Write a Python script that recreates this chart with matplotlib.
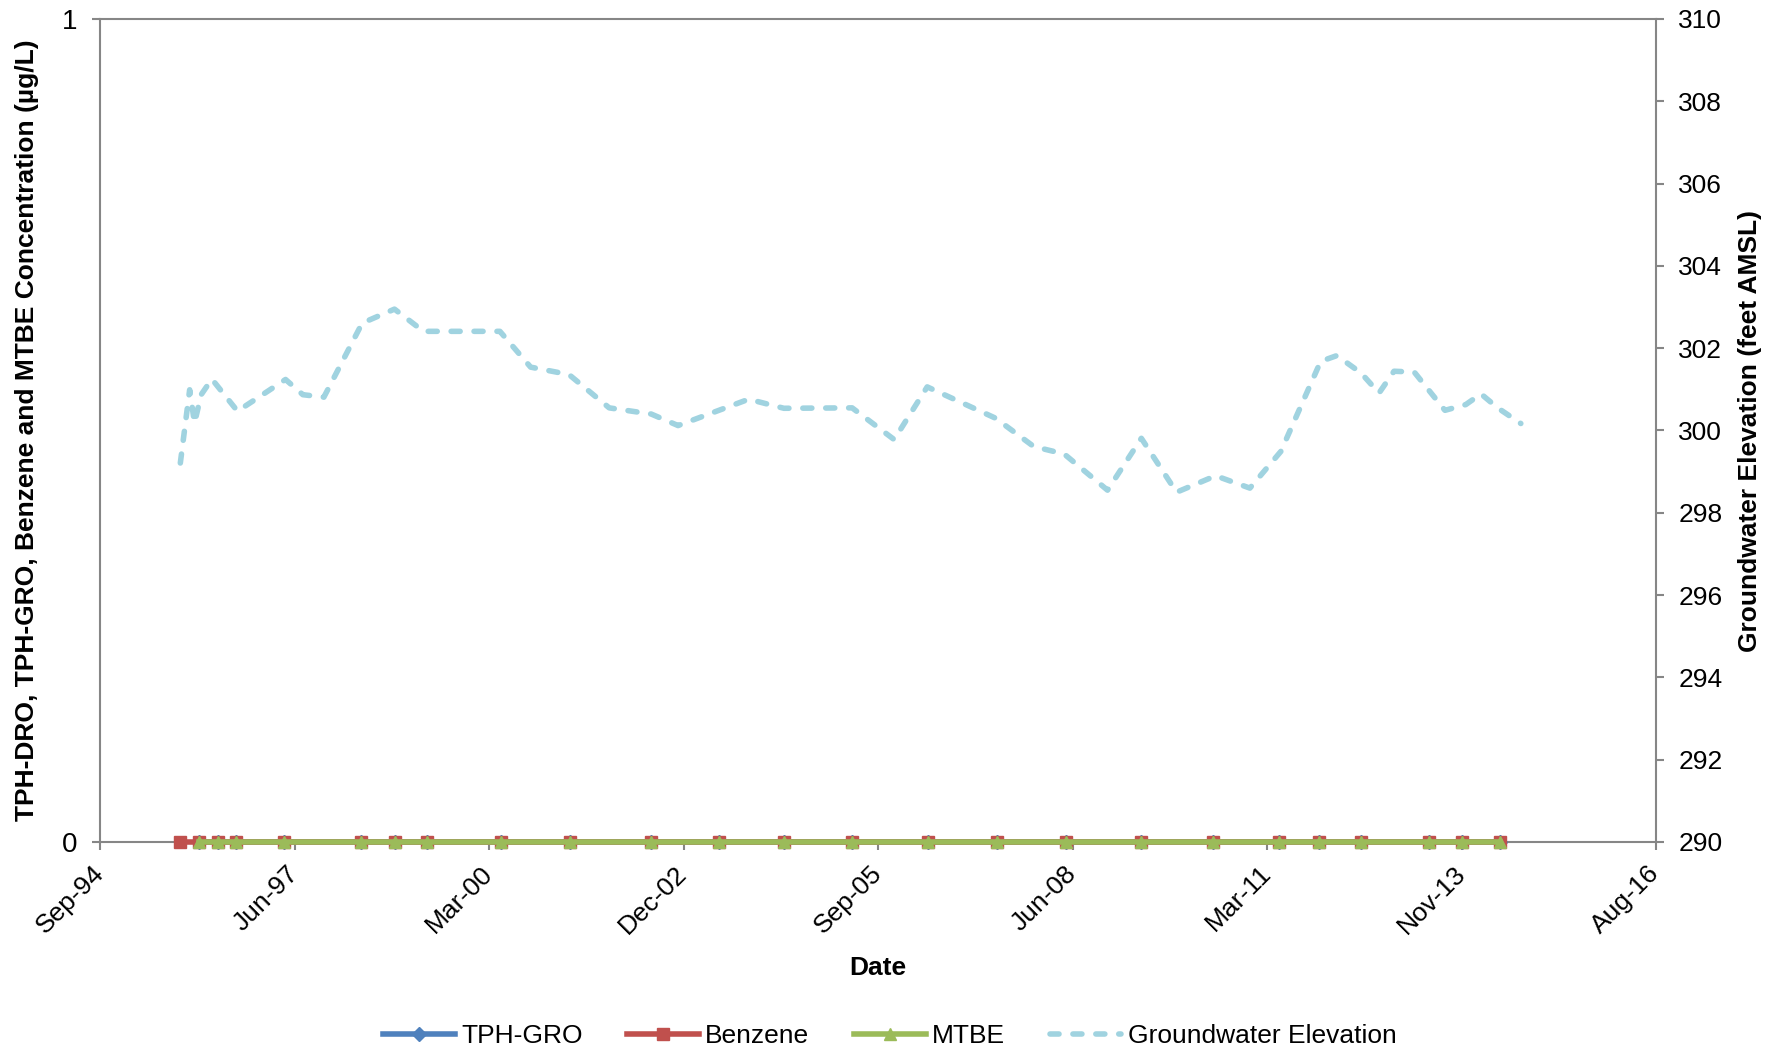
import matplotlib
matplotlib.use("Agg")
import matplotlib.pyplot as plt
import matplotlib.dates as mdates
import pandas as pd
import numpy as np

plt.rcParams['font.family'] = ['Liberation Sans', 'DejaVu Sans']
plt.rcParams['lines.scale_dashes'] = False

# ---- data ----
sample_dates = ['1995-11-09', '1996-02-17', '1996-05-25', '1996-08-24', '1997-04-30',
                '1998-05-29', '1998-11-20', '1999-05-04', '2000-05-19', '2001-05-09',
                '2002-06-28', '2003-06-14', '2004-05-15', '2005-04-28', '2006-05-23',
                '2007-05-12', '2008-05-01', '2009-05-22', '2010-05-25', '2011-04-30',
                '2011-11-21', '2012-06-24', '2013-06-13', '2013-11-30', '2014-06-11']
benzene = [0] * 25
mtbe_dates = sample_dates[1:]
mtbe = [0] * 24
tph_gro_dates = sample_dates[1:]
tph_gro = [0] * 24

gw_dates = ['1995-11-13', '1995-12-31', '1996-01-25', '1996-02-28', '1996-04-23',
            '1996-09-02', '1997-05-07', '1997-08-04', '1997-11-20', '1998-06-05',
            '1998-11-18', '1999-04-16', '2000-05-13', '2000-10-18', '2001-05-03',
            '2001-11-26', '2002-06-30', '2002-11-15', '2003-11-13', '2004-05-12',
            '2005-04-28', '2005-11-30', '2006-05-19', '2007-05-05', '2007-11-18',
            '2008-04-22', '2008-12-01', '2009-05-24', '2009-11-21', '2010-06-10',
            '2010-12-03', '2011-05-11', '2011-12-02', '2012-02-23', '2012-06-26',
            '2012-09-27', '2012-12-13', '2013-03-27', '2013-09-01', '2013-12-17',
            '2014-03-05', '2014-05-30', '2014-09-26']
gw_elev = [299.21, 300.99, 300.18, 300.87, 301.25, 300.47, 301.24, 300.87, 300.81, 302.61,
           302.95, 302.41, 302.41, 301.54, 301.36, 300.55, 300.40, 300.12, 300.76, 300.54,
           300.55, 299.78, 301.06, 300.30, 299.61, 299.43, 298.55, 299.81, 298.50, 298.90,
           298.60, 299.49, 301.68, 301.82, 301.40, 300.91, 301.44, 301.42, 300.49, 300.63,
           300.89, 300.55, 300.17]

x_start = '1994-09-26'
x_step_days = 1000
n_steps = 8

series_labels = ['TPH-GRO', 'Benzene', 'MTBE', 'Groundwater Elevation']
left_label = 'TPH-DRO, TPH-GRO, Benzene and MTBE Concentration (µg/L)'
right_label = 'Groundwater Elevation (feet AMSL)'
x_label = 'Date'

# ---- figure ----
W, H = 1780, 1051
fig = plt.figure(figsize=(W / 100, H / 100), dpi=100)
L, R, T, B = 100, 1656, 19, 842
ax = fig.add_axes([L / W, 1 - B / H, (R - L) / W, (B - T) / H])
ax2 = ax.twinx()

spine_c = '#868686'
fs = 19

start = pd.Timestamp(x_start)
ticks = [start + pd.Timedelta(days=x_step_days * i) for i in range(n_steps + 1)]

c_blue, c_red, c_green, c_gw = '#4F81BD', '#C0504D', '#9BBB59', '#A0D3E0'

l1, = ax.plot(pd.to_datetime(tph_gro_dates), tph_gro, color=c_blue, lw=4, marker='D',
              ms=7.5, mec=c_blue, clip_on=False, zorder=3, label=series_labels[0])
l2, = ax.plot(pd.to_datetime(sample_dates), benzene, color=c_red, lw=4, marker='s',
              ms=8.5, mec=c_red, clip_on=False, zorder=4, label=series_labels[1])
l3, = ax.plot(pd.to_datetime(mtbe_dates), mtbe, color=c_green, lw=4, marker='^',
              ms=9, mec=c_green, clip_on=False, zorder=5, label=series_labels[2])
l4, = ax2.plot(pd.to_datetime(gw_dates), gw_elev, color=c_gw, lw=4,
               dashes=(6.5, 10), dash_capstyle='round', solid_capstyle='round',
               label=series_labels[3])

ax.set_xlim(ticks[0], ticks[-1])
ax.set_xticks(ticks)
ax.xaxis.set_major_formatter(mdates.DateFormatter('%b-%y'))
ax.set_ylim(0, 1)
ax.set_yticks([0, 1])
ax2.set_ylim(290, 310)
ax2.set_yticks(np.arange(290, 311, 2))

for s in ['top', 'bottom', 'left']:
    ax.spines[s].set_color(spine_c)
    ax.spines[s].set_linewidth(1.5)
ax.spines['right'].set_visible(False)
for s in ['top', 'bottom', 'left']:
    ax2.spines[s].set_visible(False)
ax2.spines['right'].set_color(spine_c)
ax2.spines['right'].set_linewidth(1.5)

ax.tick_params(axis='x', direction='out', length=6, width=1.5, color=spine_c,
               labelsize=fs, pad=14)
ax.tick_params(axis='y', direction='out', length=6, width=1.5, color=spine_c,
               labelsize=fs + 1, pad=10)
ax2.tick_params(axis='y', direction='out', length=6, width=1.5, color=spine_c,
                labelsize=fs, pad=10)
for lab in ax.get_xticklabels():
    lab.set_rotation(45)
    lab.set_ha('right')
    lab.set_va('center')
    lab.set_rotation_mode('anchor')

ax.set_xlabel(x_label, fontsize=fs, fontweight='bold')
ax.set_ylabel(left_label, fontsize=fs, fontweight='bold')
ax2.set_ylabel(right_label, fontsize=fs, fontweight='bold', rotation=90)
ax.yaxis.set_label_coords(-0.0395, 0.5)
ax2.yaxis.set_label_coords(1.053, 0.5)
ax.xaxis.set_label_coords(0.5, -0.139)

ax.set_zorder(ax2.get_zorder() + 1)
ax.patch.set_visible(False)

fig.legend(handles=[l1, l2, l3, l4], labels=series_labels, loc='center',
           bbox_to_anchor=(0.5, 1 - 1036 / H), ncol=4, frameon=False, fontsize=fs,
           handlelength=2.7, handletextpad=0.25, columnspacing=1.7)

fig.savefig('out.png', dpi=100)
